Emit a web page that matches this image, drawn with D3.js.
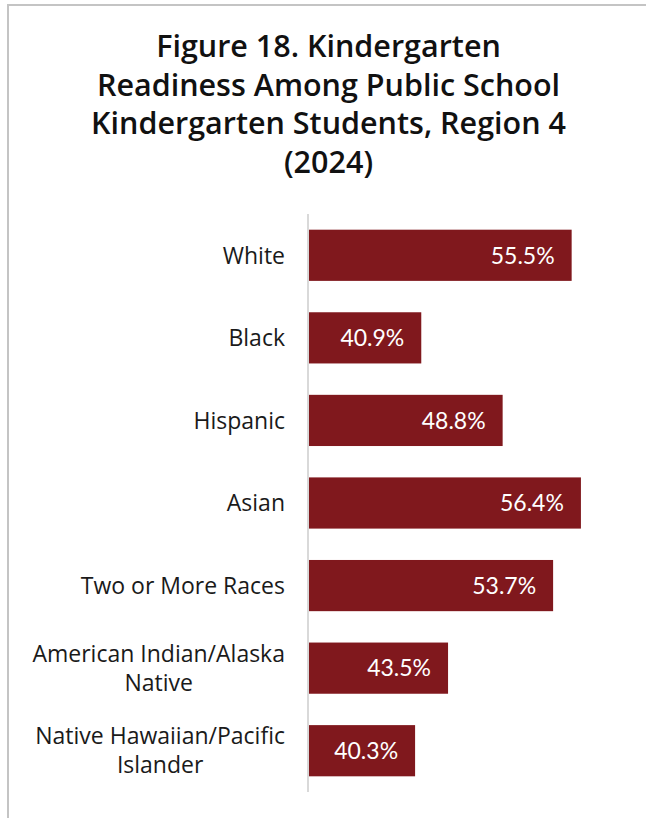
<!DOCTYPE html>
<html><head>
<meta charset="utf-8">
<script src="https://d3js.org/d3.v7.min.js"></script>
<style>
  body { margin: 0; background: #fff; }
  svg text { font-family: "Open Sans", Lato, sans-serif; }
</style>
</head>
<body>
<svg id="chart" width="646" height="818"></svg>
<script>
// data
let titleLines = ["Figure 18. Kindergarten", "Readiness Among Public School", "Kindergarten Students, Region 4", "(2024)"];
let groups = ["White", "Black", "Hispanic", "Asian", "Two or More Races", "American Indian/Alaska Native", "Native Hawaiian/Pacific Islander"];
let readiness = [55.5, 40.9, 48.8, 56.4, 53.7, 43.5, 40.3];

let svg = d3.select("#chart");

// frame (runs off the right and bottom of the window)
svg.append("rect")
  .attr("x", 8).attr("y", 5).attr("width", 700).attr("height", 900)
  .style("fill", "none").style("stroke", "#c4c4c4").style("stroke-width", 2);

// title
svg.append("text")
  .attr("text-anchor", "middle")
  .style("font-size", "30.5px").style("font-weight", "600").style("fill", "#111")
  .selectAll("tspan").data(titleLines).join("tspan")
  .attr("x", 328.5).attr("y", (d, i) => 57 + i * 38.7)
  .text(d => d);

// scales
let xScale = d3.scaleLinear().domain([30, 60]).range([309, 618]);
let yScale = d3.scaleBand().domain(groups).range([214, 792]).paddingInner(0.38).paddingOuter(0.19);

// bars
svg.selectAll("rect.bar").data(groups).join("rect")
  .attr("class", "bar")
  .attr("x", xScale(30))
  .attr("y", d => yScale(d))
  .attr("width", (d, i) => xScale(readiness[i]) - xScale(30))
  .attr("height", yScale.bandwidth())
  .style("fill", "#80181d");

// value labels inside the bar ends
svg.selectAll("text.val").data(groups).join("text")
  .attr("class", "val")
  .attr("x", (d, i) => xScale(readiness[i]) - 17)
  .attr("y", d => yScale(d) + yScale.bandwidth() / 2)
  .attr("dy", "0.36em")
  .attr("text-anchor", "end")
  .style("font-family", "Lato, sans-serif")
  .style("font-size", "23px").style("fill", "#fff")
  .text((d, i) => readiness[i].toFixed(1) + "%");

// category axis: thin line + labels
svg.append("line")
  .attr("x1", 308).attr("x2", 308).attr("y1", yScale.range()[0]).attr("y2", yScale.range()[1])
  .style("stroke", "#d9d9d9").style("stroke-width", 2);

let labels = svg.selectAll("text.cat").data(groups).join("text")
  .attr("class", "cat")
  .style("font-size", "23px").style("fill", "#1a1a1a")
  .attr("text-anchor", "middle");

// wrap long labels, lines centered on each other and the block right-aligned at x=285
labels.each(function(d) {
  let t = d3.select(this);
  let words = d.split(" ");
  let lines = [];
  let line = [];
  let probe = t.append("tspan");
  words.forEach(function(w) {
    line.push(w);
    probe.text(line.join(" "));
    if (probe.node().getComputedTextLength() > 270 && line.length > 1) {
      line.pop();
      lines.push(line.join(" "));
      line = [w];
    }
  });
  lines.push(line.join(" "));
  probe.remove();

  let widths = lines.map(function(l) {
    let s = t.append("tspan").text(l);
    let w = s.node().getComputedTextLength();
    s.remove();
    return w;
  });
  let cx = 285 - d3.max(widths) / 2;
  let mid = yScale(d) + yScale.bandwidth() / 2;
  let lh = 29;
  lines.forEach(function(l, i) {
    t.append("tspan")
      .attr("x", cx)
      .attr("y", mid + (i - (lines.length - 1) / 2) * lh)
      .attr("dy", "0.36em")
      .text(l);
  });
});
</script>
</body>
</html>
